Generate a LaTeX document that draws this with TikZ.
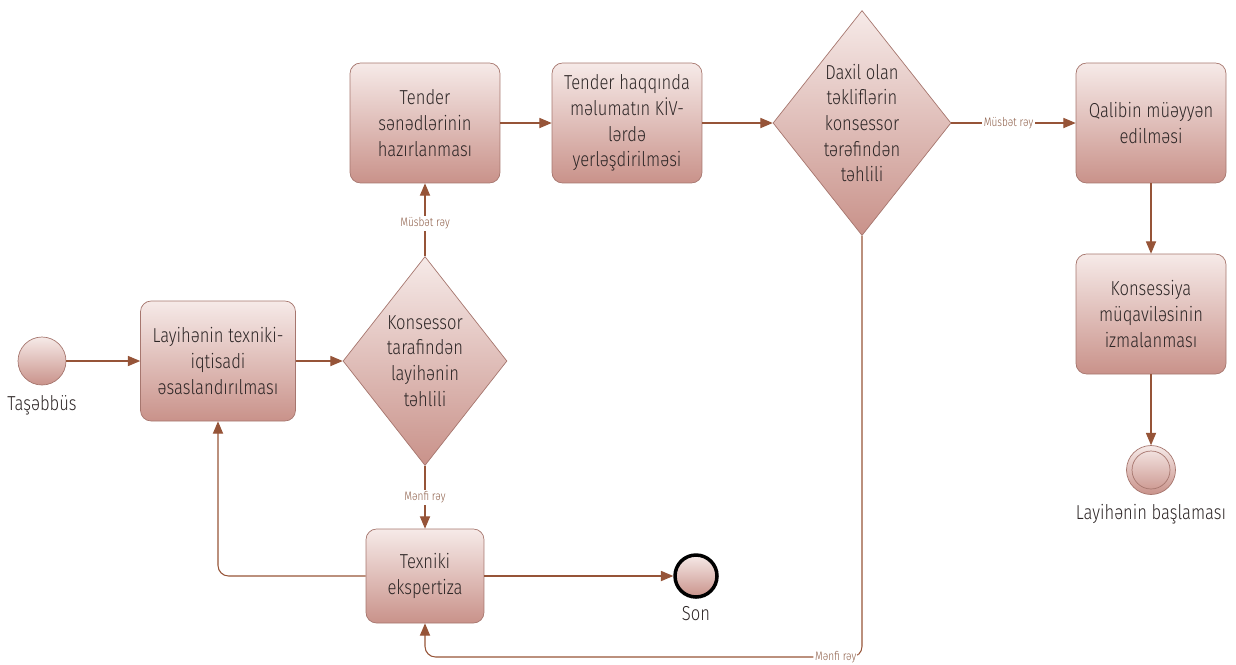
\documentclass[tikz,border=0pt]{standalone}
\usepackage{fontspec}
\setmainfont{Fira Sans}[FakeStretch=0.82, UprightFont={* Light}]
\usepackage{tikz}
\usetikzlibrary{shapes,arrows,positioning}

\definecolor{boxtop}{RGB}{246,234,232}
\definecolor{boxbot}{RGB}{201,146,138}
\definecolor{boxline}{RGB}{166,118,110}
\definecolor{flowline}{RGB}{150,84,56}
\definecolor{raytext}{RGB}{140,92,70}
\definecolor{boxtext}{RGB}{45,38,38}

\tikzset{
  task/.style={rectangle, rounded corners=6pt, draw=boxline, top color=boxtop, bottom color=boxbot,
    minimum width=3.0cm, minimum height=2.4cm, align=center, text=boxtext,
    font=\fontsize{11.5}{14.6}\selectfont},
  decision/.style={diamond, draw=boxline, top color=boxtop, bottom color=boxbot, inner sep=0pt},
  dtext/.style={align=center, text=boxtext, font=\fontsize{11.5}{14.6}\selectfont},
  event/.style={circle, draw=boxline, top color=boxtop, bottom color=boxbot, minimum size=0.96cm, inner sep=0pt},
  evlabel/.style={text=boxtext, font=\fontsize{11.5}{13}\selectfont},
  flow/.style={draw=flowline, line width=0.6pt, -triangle 45},
  ray/.style={text=raytext, fill=white, inner sep=1pt, font=\fontsize{7}{8}\selectfont}
}

\begin{document}
\begin{tikzpicture}[x=0.02cm, y=-0.02cm]
  \useasboundingbox (0,0) rectangle (1236,664);

  % nodes
  \node [event] (start) at (42,361) {};
  \node [evlabel, below=2pt of start] (startlbl) {Taşəbbüs};
  \node [task, minimum width=3.1cm] (texniki) at (218,361) {Layihənin texniki-\\iqtisadi\\əsaslandırılması};
  \node [decision, minimum width=3.28cm, minimum height=4.18cm,
         label={[dtext]center:{Konsessor\\tarafindən\\layihənin\\təhlili}}] (tehlil) at (425,361) {};
  \node [task] (tender) at (425,123) {Tender\\sənədlərinin\\hazırlanması};
  \node [task] (kiv) at (627,123) {Tender haqqında\\məlumatın KİV-\\lərdə\\yerləşdirilməsi};
  \node [decision, minimum width=3.56cm, minimum height=4.5cm,
         label={[dtext]center:{Daxil olan\\təkliflərin\\konsessor\\tərəfindən\\təhlili}}] (teklif) at (862,123) {};
  \node [task] (qalib) at (1151,123) {Qalibin müəyyən\\edilməsi};
  \node [task] (muqavile) at (1151,314) {Konsessiya\\müqaviləsinin\\izmalanması};
  \node [event, minimum size=0.98cm] (basla) at (1151,470) {};
  \node [circle, draw=boxline, minimum size=0.76cm, inner sep=0pt] (baslain) at (basla) {};
  \node [evlabel, below=2pt of basla] (baslalbl) {Layihənin başlaması};
  \node [task, minimum width=2.36cm, minimum height=1.88cm] (ekspert) at (425,576) {Texniki\\ekspertiza};
  \node [event, draw=black, line width=2pt, minimum size=0.84cm] (son) at (696,576) {};
  \node [evlabel, below=1pt of son] (sonlbl) {Son};
  \coordinate (alt) at (0,657);

  % connectors
  \draw [flow] (start) -- (texniki);
  \draw [flow] (texniki) -- (tehlil);
  \draw [flow] (tehlil.north) -- node [ray, pos=0.45] {Müsbət rəy} (tender);
  \draw [flow] (tender) -- (kiv);
  \draw [flow] (kiv) -- (teklif);
  \draw [flow] (teklif.east) -- node [ray, pos=0.46] {Müsbət rəy} (qalib);
  \draw [flow] (qalib) -- (muqavile);
  \draw [flow] (muqavile) -- (basla);
  \draw [flow] (tehlil.south) -- node [ray, pos=0.5] {Mənfi rəy} (ekspert);
  \draw [flow] (ekspert) -- (son);
  \draw [flow, rounded corners=6pt] (ekspert.west) -| (texniki.south);
  \draw [flow, rounded corners=6pt] (teklif.south) -- (teklif.south |- alt)
        -- node [ray, pos=0.06] {Mənfi rəy} (ekspert.south |- alt) -- (ekspert.south);
\end{tikzpicture}
\end{document}
